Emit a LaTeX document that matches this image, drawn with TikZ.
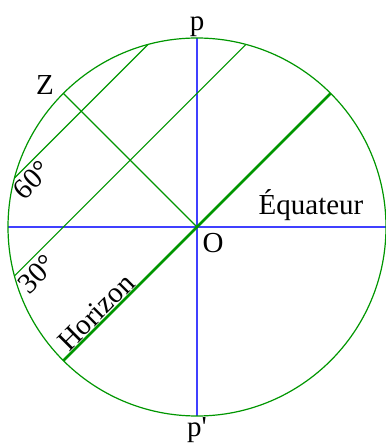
\documentclass[tikz,border=0pt]{standalone}
\usepackage{fontspec}
\setmainfont{Liberation Serif}
\usetikzlibrary{positioning,calc}
\definecolor{circgreen}{RGB}{0,150,0}
\definecolor{axisblue}{RGB}{64,64,255}

\begin{document}
\begin{tikzpicture}[x=1pt,y=1pt,
    lbl/.style={font=\fontsize{29}{33}\selectfont,inner sep=1pt},
    thinline/.style={circgreen,line width=1.1pt},
    axis/.style={axisblue,line width=1.4pt}]
  \useasboundingbox (0,0) rectangle (386,445);
  \coordinate (O) at (197,218);
  % points on the circle
  \coordinate (Pn) at ($(O)+(90:189)$);
  \coordinate (Ps) at ($(O)+(270:189)$);
  \coordinate (Ew) at ($(O)+(180:189)$);
  \coordinate (Ee) at ($(O)+(0:189)$);
  \coordinate (Z) at ($(O)+(135:189)$);
  \coordinate (He) at ($(O)+(45:189)$);
  \coordinate (Hw) at ($(O)+(225:189)$);
  \coordinate (Sa) at ($(O)+(105:189)$);
  \coordinate (Sb) at ($(O)+(165:189)$);
  \coordinate (Ta) at ($(O)+(75:189)$);
  \coordinate (Tb) at ($(O)+(195:189)$);
  \draw[axis] (Pn) -- (Ps);
  \draw[axis] (Ew) -- (Ee);
  \draw[circgreen,line width=1.2pt] (O) circle (189);
  \draw[thinline] (Z) -- (O);
  \draw[thinline] (Sb) -- (Sa);
  \draw[thinline] (Tb) -- (Ta);
  \draw[circgreen,line width=2.6pt] (Hw) -- (He);
  \node[lbl,anchor=south] (p) at (Pn) {p};
  \node[lbl,anchor=north] (pp) at (Ps) {p\textquotesingle};
  \node[lbl] (zlbl) at (45,360) {Z};
  \node[lbl] (olbl) at (213,202) {O};
  \node[lbl,anchor=base] (eq) at (311,230) {Équateur};
  \node[lbl,rotate=45] (h60) at (32,265) {60°};
  \node[lbl,rotate=45] (h30) at (37,171) {30°};
  \node[lbl,rotate=45] (hor) at (96,133) {Horizon};
\end{tikzpicture}
\end{document}
